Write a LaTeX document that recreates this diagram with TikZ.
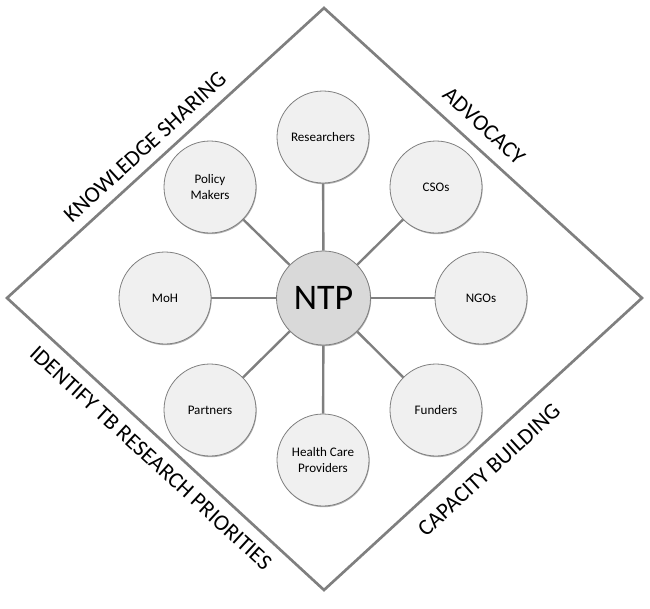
\documentclass[tikz,border=0pt]{standalone}
\usepackage{fontspec}
\setmainfont{Carlito}
\usetikzlibrary{shadows,backgrounds}
\definecolor{edgegray}{HTML}{7F7F7F}
\definecolor{satfill}{HTML}{F0F0F0}
\definecolor{hubfill}{HTML}{D9D9D9}
\begin{document}
\begin{tikzpicture}[x=0.75pt,y=-0.75pt,
  sat/.style={circle,draw=edgegray,line width=0.6pt,fill=satfill,minimum size=69pt,inner sep=0pt,align=center,
    font=\fontsize{9.8}{12}\selectfont,
    drop shadow={shadow xshift=0.5pt,shadow yshift=-0.9pt,fill=black!45,opacity=0.7}},
  hub/.style={sat,fill=hubfill,minimum size=70.5pt,font=\fontsize{27}{30}\selectfont},
  spoke/.style={draw=edgegray,line width=1.8pt},
  frame/.style={draw=edgegray,line width=2pt,line join=miter},
  lab/.style={font=\fontsize{17}{19}\selectfont,inner sep=0pt}]
\useasboundingbox (0,0) rectangle (650,608);
% diamond
\coordinate (T) at (324,8);
\coordinate (L) at (7,298);
\coordinate (R) at (642,298);
\coordinate (B) at (324,590);
\draw[frame] (T) -- (R) -- (B) -- (L) -- cycle;
% nodes
\node[sat] (res) at (323,137) {Researchers};
\node[sat] (hcp) at (323,460) {Health Care\\Providers};
\node[sat] (moh) at (165,298) {MoH};
\node[sat] (ngo) at (481,298) {NGOs};
\node[sat] (pm) at (210,187) {Policy\\Makers};
\node[sat] (cso) at (436,187) {CSOs};
\node[sat] (par) at (210,410) {Partners};
\node[sat] (fun) at (436,410) {Funders};
\node[hub] (ntp) at (323.5,298) {NTP};
% spokes
\begin{scope}[on background layer]
\foreach \n in {res,hcp,moh,ngo,pm,cso,par,fun}{
  \path[spoke] (ntp) -- (\n);
}
\end{scope}
% edge labels
\node[lab,rotate=42.5] (ks) at (145,147) {KNOWLEDGE SHARING};
\node[lab,rotate=-42.5] (adv) at (484,126) {ADVOCACY};
\node[lab,rotate=-42.5] (itb) at (151,458) {IDENTIFY TB RESEARCH PRIORITIES};
\node[lab,rotate=42.5] (cb) at (489,470) {CAPACITY BUILDING};
\end{tikzpicture}
\end{document}
